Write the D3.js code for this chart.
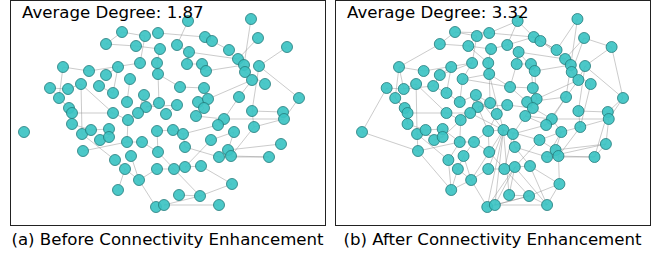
<!DOCTYPE html>
<html><head><meta charset="utf-8">
<script src="https://cdn.jsdelivr.net/npm/d3@7"></script>
<style>body{margin:0;background:#fff}svg{display:block}</style>
</head><body>
<svg id="chart" width="667" height="256"></svg>
<script>
// Layout coordinates of the 100 nodes (same layout in both panels)
const nodeU = [0.28,0.91,-0.38,-0.15,-0.02,-0.54,-0.24,0.00,0.17,0.29,0.45,0.52,0.98,1.27,0.69,0.78,0.84,0.85,0.99,0.92,1.05,0.79,1.39,0.92,1.23,1.24,0.64,-0.97,-0.71,-0.54,-0.42,-0.20,-0.03,0.27,0.42,0.46,-1.10,-0.92,-0.79,-0.61,-1.01,-0.47,-0.30,-0.02,0.20,0.44,-0.16,-0.01,-0.33,-0.14,0.17,0.38,0.48,0.44,-0.91,-0.88,-0.47,-0.22,0.06,0.36,-0.32,0.58,-0.03,0.13,0.23,0.51,-0.33,-0.18,-0.02,0.25,0.59,-0.45,-0.29,-0.35,-0.03,0.14,0.25,0.41,-0.21,-0.42,0.19,0.40,-0.04,0.04,0.59,0.74,0.94,1.21,0.68,0.71,1.09,0.72,-1.36,-0.88,-0.78,-0.69,-0.51,-0.60,-0.51,-0.77];
const nodeV = [0.94,0.96,0.83,0.79,0.82,0.71,0.69,0.66,0.70,0.63,0.78,0.74,0.77,0.68,0.65,0.56,0.50,0.43,0.49,0.35,0.31,0.18,0.17,0.04,0.03,-0.04,-0.04,0.48,0.44,0.40,0.48,0.52,0.52,0.51,0.51,0.44,0.27,0.26,0.31,0.29,0.17,0.22,0.36,0.41,0.28,0.27,0.20,0.12,0.13,0.08,0.10,0.13,0.16,0.07,0.07,0.02,0.02,0.02,0.01,-0.01,-0.05,-0.10,-0.16,-0.15,-0.19,-0.25,-0.27,-0.27,-0.37,-0.32,-0.42,-0.45,-0.41,-0.54,-0.54,-0.54,-0.52,-0.51,-0.65,-0.75,-0.80,-0.81,-0.92,-0.90,-0.90,-0.17,-0.12,-0.29,-0.35,-0.41,-0.42,-0.69,-0.17,-0.09,-0.19,-0.15,-0.14,-0.25,-0.22,-0.36];

// Edges (1-based node ids)
const edgesBefore = [[1,9],[3,4],[5,11],[6,7],[2,17],[13,16],[14,19],[12,15],[10,16],[36,17],[53,20],[19,24],[19,23],[23,26],[22,27],[24,25],[27,26],[24,87],[87,26],[87,90],[89,88],[90,91],[71,91],[92,78],[92,82],[84,85],[84,82],[81,82],[79,83],[73,79],[74,79],[69,76],[68,69],[76,82],[77,78],[77,66],[62,65],[70,71],[72,74],[27,60],[63,64],[67,68],[100,67],[94,96],[95,72],[56,57],[74,80],[28,29],[28,41],[29,32],[37,41],[37,38],[41,55],[39,57],[39,95],[40,42],[44,48],[44,45],[43,49],[50,51],[7,8],[4,32],[8,33],[33,44],[9,10],[10,34],[11,12],[34,35],[35,36],[15,18],[18,21],[20,22],[45,46],[46,53],[52,54],[54,60],[51,59],[48,50],[47,58],[57,61],[58,61],[61,67],[97,99],[98,99],[96,97],[30,31],[31,42],[38,39],[55,56],[64,65],[65,70],[63,69],[75,76],[75,79],[66,86],[86,89],[3,6]];
const edgesAdded = [[93,37],[93,100],[100,80],[64,83],[64,84],[64,81],[64,79],[64,75],[64,58],[64,47],[64,44],[64,66],[77,83],[77,84],[77,81],[77,85],[80,79],[80,72],[83,82],[85,82],[85,92],[85,78],[92,90],[71,88],[71,86],[91,88],[91,25],[88,26],[87,86],[87,21],[23,25],[23,14],[14,13],[2,15],[13,18],[19,20],[22,52],[22,62],[62,60],[60,65],[60,53],[52,45],[45,34],[45,43],[44,43],[32,43],[32,30],[30,40],[42,49],[49,47],[47,48],[48,59],[59,63],[63,68],[68,73],[73,74],[72,67],[67,97],[99,95],[95,100],[94,55],[94,56],[56,41],[38,40],[28,38],[28,6],[3,5],[4,7],[7,33],[8,9],[9,11],[10,36],[12,16],[11,15],[35,46],[36,53],[54,27],[27,86],[66,89],[70,78],[65,76],[61,99],[57,58],[50,63],[51,54],[1,11],[1,5],[16,17],[17,22],[18,20]];

const panels = [
  {title: "Average Degree: 1.87", caption: "(a) Before Connectivity Enhancement", edges: edgesBefore, left: 10, xr: [24, 299]},
  {title: "Average Degree: 3.32", caption: "(b) After Connectivity Enhancement", edges: edgesBefore.concat(edgesAdded), left: 335, xr: [362, 623]}
];

const svg = d3.select("#chart");
const font = "DejaVu Sans, sans-serif";
const nodes = nodeU.map((u, i) => ({u, v: nodeV[i]}));
const y = d3.scaleLinear().domain([d3.max(nodeV), d3.min(nodeV)]).range([19, 207]);

panels.forEach(p => {
  const x = d3.scaleLinear().domain([d3.min(nodeU), d3.max(nodeU)]).range(p.xr);
  const g = svg.append("g");
  g.append("rect").attr("x", p.left + 0.5).attr("y", 0.5).attr("width", 315).attr("height", 225)
    .attr("fill", "#fff").attr("stroke", "#222").attr("stroke-width", 1);
  const seen = new Set();
  const es = p.edges.filter(([a, b]) => { const k = Math.min(a,b) + "-" + Math.max(a,b); if (seen.has(k)) return false; seen.add(k); return true; });
  g.selectAll("line.e").data(es).join("line").attr("class", "e")
    .attr("x1", d => x(nodes[d[0]-1].u)).attr("y1", d => y(nodes[d[0]-1].v))
    .attr("x2", d => x(nodes[d[1]-1].u)).attr("y2", d => y(nodes[d[1]-1].v))
    .attr("stroke", "#8c8c8c").attr("stroke-opacity", 0.45).attr("stroke-width", 1);
  g.selectAll("circle").data(nodes).join("circle")
    .attr("cx", d => x(d.u)).attr("cy", d => y(d.v)).attr("r", 5.5)
    .attr("fill", "#3cc3c3").attr("fill-opacity", 0.92)
    .attr("stroke", "#237a7a").attr("stroke-width", 0.8);
  g.append("text").attr("x", p.left + 12).attr("y", 18).text(p.title)
    .attr("font-family", font).attr("font-size", 16.6).attr("fill", "#000");
  g.append("text").attr("x", p.left + 157.5).attr("y", 245).attr("text-anchor", "middle").text(p.caption)
    .attr("font-family", font).attr("font-size", 16.6).attr("fill", "#000");
});
</script>
</body></html>
